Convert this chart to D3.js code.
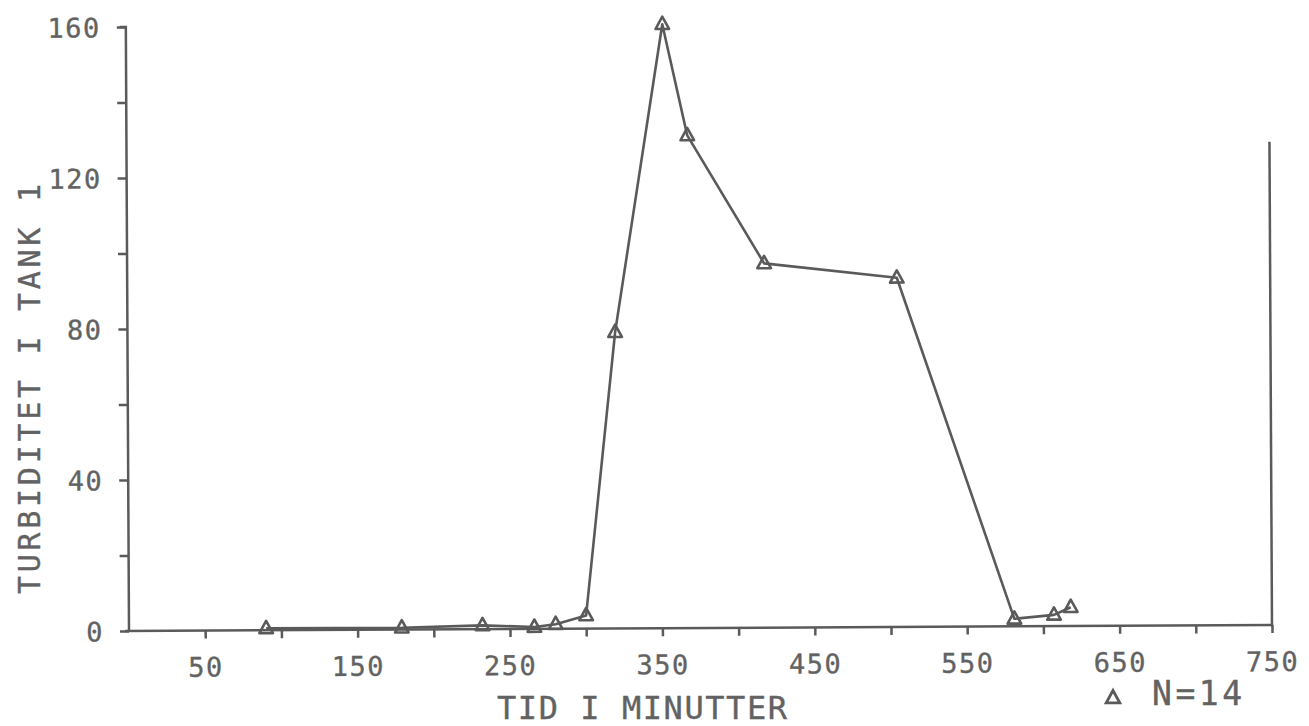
<!DOCTYPE html>
<html><head><meta charset="utf-8">
<script src="https://cdn.jsdelivr.net/npm/d3@7"></script>
<style>body{margin:0;background:#fff}svg{display:block}</style>
</head><body>
<svg id="chart" width="1309" height="726"></svg>
<script>
// ---- data ----
const timeMin   = [90, 179, 232, 266, 280, 300, 320, 352, 368, 418, 505, 581, 607, 618];
const turbidity = [0.5, 0.5, 1, 0.5, 1.2, 3.5, 78.5, 160, 130.5, 96.5, 92.5, 2, 3, 5];
const xTickValues = [50,100,150,200,250,300,350,400,450,500,550,600,650,700,750];
const xTickLabels = [50,150,250,350,450,550,650,750];
const yTickValues = [0,20,40,60,80,100,120,140,160];
const yTickLabels = [0,40,80,120,160];
const xTitle = "TID I MINUTTER";
const yTitle = "TURBIDITET I TANK 1";
const legendText = "N=14";
const rightFrameTop = 128;

// ---- drawing ----
const ink = "#5a5a5a";
const font = "'DejaVu Sans Mono', 'Liberation Mono', monospace";
const svg = d3.select("#chart");
svg.append("rect").attr("width",1309).attr("height",726).attr("fill","#fff");

const x = d3.scaleLinear().domain([0,750]).range([129,1272]);
const y = d3.scaleLinear().domain([0,160]).range([631,27]);

const g = svg.append("g").attr("transform","rotate(-0.3,129,631)");

function styleText(sel, size) {
  sel.attr("fill","#626262").attr("stroke","#626262").attr("stroke-width",0.35)
     .attr("font-family",font).attr("font-size",size);
}

// x axis
const xAxis = d3.axisBottom(x).tickValues(xTickValues).tickSize(8)
  .tickFormat(d => xTickLabels.includes(d) ? d : "");
const gx = g.append("g").attr("transform",`translate(0,${y(0)})`).call(xAxis);
gx.select(".domain").attr("d",`M${x(0)-4},0H${x(750)}`);
gx.selectAll(".domain, .tick line").attr("stroke",ink).attr("stroke-width",2.5);
gx.selectAll(".tick text").attr("y",46).attr("dy",0).attr("letter-spacing",1.5).call(styleText,27);

// y axis
const yAxis = d3.axisLeft(y).tickValues(yTickValues).tickSize(9)
  .tickFormat(d => yTickLabels.includes(d) ? d : "");
const gy = g.append("g").attr("transform",`translate(${x(0)},0)`).call(yAxis);
gy.select(".domain").attr("d",`M0,${y(0)}V${y(160)}H-6`);
gy.selectAll(".domain, .tick line").attr("stroke",ink).attr("stroke-width",2.5).attr("fill","none");
gy.selectAll(".tick text").attr("x",-25).attr("dy","0.36em").attr("letter-spacing",1.5).call(styleText,27);

// right frame line
g.append("line").attr("x1",x(750)).attr("x2",x(750)).attr("y1",y(0)).attr("y2",y(rightFrameTop))
  .attr("stroke",ink).attr("stroke-width",2.5);

// data line
const pts = timeMin.map((t,i)=>[t,turbidity[i]]);
g.append("path").datum(pts)
  .attr("d", d3.line().x(d=>x(d[0])).y(d=>y(d[1])))
  .attr("fill","none").attr("stroke",ink).attr("stroke-width",2.6).attr("stroke-linejoin","round");

const tri = "M0,-7.5L6.8,4.8L-6.8,4.8Z";
g.selectAll("path.mk").data(pts).join("path").attr("class","mk")
  .attr("d",tri).attr("transform",d=>`translate(${x(d[0])},${y(d[1])})`)
  .attr("fill","none").attr("stroke",ink).attr("stroke-width",2.6).attr("stroke-linejoin","round");

// titles
svg.append("text").attr("x",642).attr("y",719).attr("text-anchor","middle")
  .attr("textLength",290).attr("lengthAdjust","spacing").call(styleText,32).text(xTitle);

svg.append("text").attr("transform","translate(40,389) rotate(-90)").attr("text-anchor","middle")
  .attr("textLength",410).attr("lengthAdjust","spacing").call(styleText,30).text(yTitle);

// legend
svg.append("path").attr("d",tri).attr("transform","translate(1113,698)")
  .attr("fill","none").attr("stroke",ink).attr("stroke-width",2.8);
svg.append("text").attr("x",1152).attr("y",705)
  .attr("textLength",90).attr("lengthAdjust","spacing").call(styleText,33).text(legendText);
</script>
</body></html>
